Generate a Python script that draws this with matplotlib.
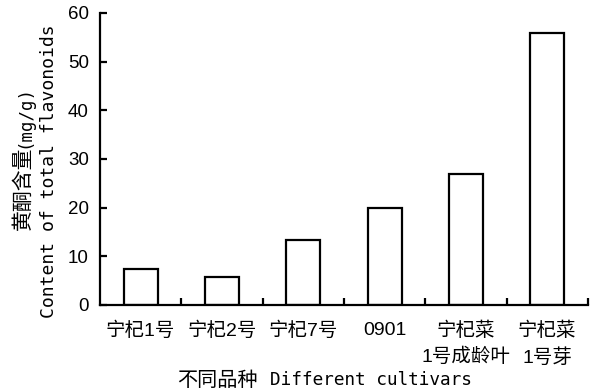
import matplotlib.pyplot as plt
import numpy as np

cultivars = ['宁杞1号', '宁杞2号', '宁杞7号', '0901', '宁杞菜\n1号成龄叶', '宁杞菜\n1号芽']
flavonoids = [7.4, 5.8, 13.4, 19.9, 26.9, 55.9]
y_ticks = [0, 10, 20, 30, 40, 50, 60]

plt.rcParams['font.family'] = ['Liberation Sans', 'Noto Sans CJK SC']
mono = ['DejaVu Sans Mono', 'Noto Sans CJK SC']

fig = plt.figure(figsize=(5.92, 3.9), dpi=100)
ax = fig.add_axes([0.169, 0.218, 0.824, 0.749])

x = np.arange(len(cultivars))
ax.bar(x, flavonoids, width=0.42, facecolor='white', edgecolor='black', linewidth=1.6)

ax.set_xlim(-0.5, len(cultivars) - 0.5)
ax.set_ylim(0, 60)
ax.set_yticks(y_ticks)
ax.set_xticks(x)
ax.set_xticklabels(cultivars, linespacing=1.55)
ax.set_xticks(list(x + 0.5), minor=True)

ax.tick_params(axis='x', which='major', length=0, pad=12, labelsize=14)
ax.tick_params(axis='x', which='minor', direction='in', length=5, width=1.6)
ax.tick_params(axis='y', direction='in', length=5, width=1.6, pad=8, labelsize=13.5)

for side in ['top', 'right']:
    ax.spines[side].set_visible(False)
for side in ['left', 'bottom']:
    ax.spines[side].set_linewidth(1.6)

# y label: chinese line (with smaller unit) and english line
fig.text(23 / 592, 1 - 230 / 390, '黄酮含量', fontsize=15, rotation=90,
         ha='center', va='bottom')
fig.text(24 / 592, 1 - 148 / 390, '(mg/g)', family=mono, fontsize=12.5, rotation=90,
         ha='center', va='bottom')
fig.text(49 / 592, 1 - 171 / 390, 'Content of total flavonoids', family=mono, fontsize=13,
         rotation=90, ha='center', va='center')

# x label
fig.text(177 / 592, 1 - 380 / 390, '不同品种', fontsize=14.5, ha='left', va='center')
fig.text(270 / 592, 1 - 380 / 390, 'Different cultivars', family=mono, fontsize=12.8,
         ha='left', va='center')

fig.savefig('out.png', dpi=100, facecolor='white')
